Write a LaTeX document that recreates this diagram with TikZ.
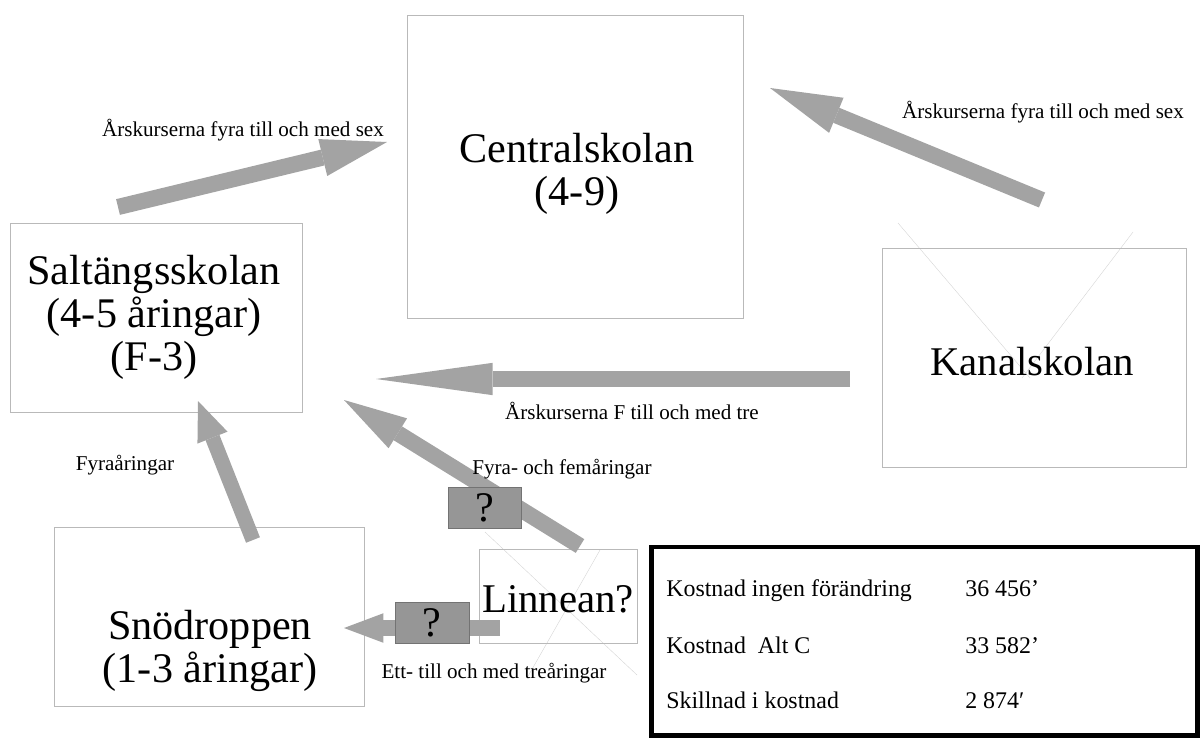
\documentclass[tikz,border=0pt]{standalone}
\usepackage{fontspec}
\setmainfont{LiberationSerif}[Extension=.ttf, UprightFont=*-Regular, BoldFont=*-Bold, ItalicFont=*-Italic, BoldItalicFont=*-BoldItalic]
\usetikzlibrary{arrows.meta}
\definecolor{arrowgray}{RGB}{163,163,163}
\definecolor{qgray}{RGB}{150,150,150}
\definecolor{boxline}{RGB}{185,185,185}

\begin{document}
\begin{tikzpicture}[x=0.025cm, y=-0.025cm,
    school/.style={draw=boxline, line width=0.5pt, inner sep=0pt},
    qbox/.style={draw=black!55, fill=qgray, line width=0.4pt, inner sep=0pt, minimum width=1.85cm, minimum height=1.025cm, font=\fontsize{30}{36}\selectfont},
    big/.style={align=center, inner sep=0pt, font=\fontsize{30}{31}\selectfont},
    small/.style={inner sep=0pt, font=\fontsize{15}{18}\selectfont},
    cost/.style={inner sep=0pt, anchor=base west, font=\fontsize{17}{20}\selectfont},
    faint/.style={draw=black!16, line width=0.3pt},
    flow/.style={draw=arrowgray, line width=11.5pt}]

        \useasboundingbox (0,0) rectangle (1200,737);

        \draw[faint] (898,223) -- (1030,378);
        \draw[faint] (1133,232) -- (1022,378);
        \draw[faint] (485,532) -- (637,675);
        \draw[faint] (600,550) -- (527,678);

        \node[school, minimum width=8.4cm, minimum height=7.575cm] (central) at (575,166.5) {};
        \node[school, minimum width=7.3cm, minimum height=4.725cm] (salt) at (156,317.5) {};
        \node[school, minimum width=7.75cm, minimum height=4.475cm] (snow) at (209,616.5) {};
        \node[school, minimum width=7.6cm, minimum height=5.475cm] (kanal) at (1034,357.5) {};
        \node[school, minimum width=3.95cm, minimum height=2.35cm] (linnean) at (558,596) {};
        \node[draw=black, line width=3.5pt, inner sep=0pt, minimum width=13.625cm, minimum height=4.7cm] (cost) at (924.5,641) {};

        % ends of the flows
        \coordinate (saltout) at (118,207);
        \coordinate (centralin1) at (387,142);
        \coordinate (kanalout1) at (1042,200);
        \coordinate (centralin2) at (770,88);
        \coordinate (kanalout2) at (850,379);
        \coordinate (saltin1) at (376,379);
        \coordinate (linneanout1) at (580,546);
        \coordinate (saltin2) at (344,400);
        \coordinate (snowout) at (253,540);
        \coordinate (saltin3) at (198,401);
        \coordinate (linneanout2) at (500,628);
        \coordinate (snowin) at (344,628);

        \draw[flow, -{Triangle[length=47pt, width=27pt, line width=0pt]}] (saltout) -- (centralin1);
        \draw[flow, -{Triangle[length=51pt, width=27pt, line width=0pt]}] (kanalout1) -- (centralin2);
        \draw[flow, -{Triangle[length=83pt, width=23pt, line width=0pt]}] (kanalout2) -- (saltin1);
        \draw[flow, -{Triangle[length=45pt, width=25pt, line width=0pt]}] (linneanout1) -- (saltin2);
        \draw[flow, line width=10.6pt, -{Triangle[length=28pt, width=23pt, line width=0pt]}] (snowout) -- (saltin3);
        \draw[flow, -{Triangle[length=28pt, width=21pt, line width=0pt]}] (linneanout2) -- (snowin);

        \node[qbox, minimum width=1.825cm] (q1) at (484.5,507.5) {?};
        \node[qbox] (q2) at (432,622.5) {?};

        \node[big] (centraltext) at (577,174) {Centralskolan\\(4-9)};
        \node[big, font=\fontsize{30}{30.5}\selectfont] (salttext) at (154,317) {Saltängsskolan\\(4-5 åringar)\\(F-3)};
        \node[big] (snowtext) at (210,651) {Snödroppen\\(1-3 åringar)};
        \node[big, font=\fontsize{29}{35}\selectfont] (kanaltext) at (1032,362) {Kanalskolan};
        \node[big, font=\fontsize{29}{35}\selectfont] (linneantext) at (558,599) {Linnean?};

        \node[small] (lsaltcentral) at (243,130) {Årskurserna fyra till och med sex};
        \node[small] (lkanalcentral) at (1043,112) {Årskurserna fyra till och med sex};
        \node[small] (lkanalsalt) at (632,411) {Årskurserna F till och med tre};
        \node[small] (llinneansalt) at (562,469) {Fyra- och femåringar};
        \node[small] (lsnowsalt) at (125,465) {Fyraåringar};
        \node[small] (llinneansnow) at (494,673) {Ett- till och med treåringar};

        \node[cost] (row1) at (666,596) {Kostnad ingen förändring};
        \node[cost] (val1) at (965,596) {36 456’};
        \node[cost] (row2) at (666,653) {Kostnad\ \ Alt C};
        \node[cost] (val2) at (965,653) {33 582’};
        \node[cost] (row3) at (666,708) {Skillnad i kostnad};
        \node[cost] (val3) at (965,708) {2 874′};

    \end{tikzpicture}
\end{document}
